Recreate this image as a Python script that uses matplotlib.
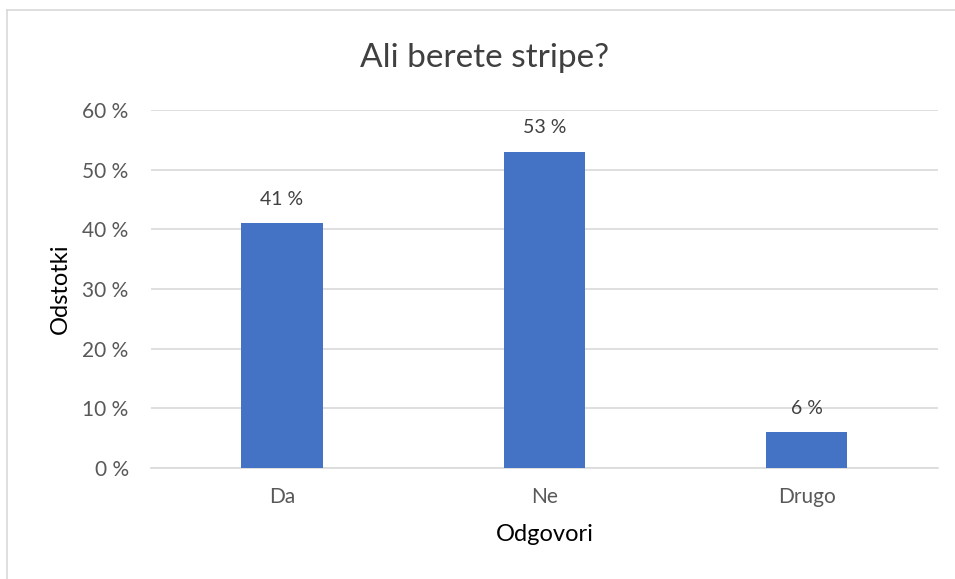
import matplotlib
matplotlib.use("Agg")
import matplotlib.pyplot as plt
from matplotlib.lines import Line2D

categories = ["Da", "Ne", "Drugo"]
values = [41, 53, 6]
yticks = [0, 10, 20, 30, 40, 50, 60]
ytick_labels = ["0 %", "10 %", "20 %", "30 %", "40 %", "50 %", "60 %"]

plt.rcParams['font.family'] = ['Lato', 'DejaVu Sans']

fig = plt.figure(figsize=(9.55, 5.79), dpi=100)
ax = fig.add_axes([0.158, 0.192, 0.824, 0.618])

x = list(range(len(categories)))
ax.bar(x, values, width=0.31, color="#4472C4", zorder=3)
ax.set_xlim(-0.5, len(categories) - 0.5)
ax.set_ylim(0, 60)
ax.set_yticks(yticks)
ax.set_yticklabels(ytick_labels)
ax.set_xticks(x)
ax.set_xticklabels(categories)
ax.grid(axis='y', color="#D9D9D9", linewidth=1.2, zorder=0)
for s in ['top', 'right', 'left']:
    ax.spines[s].set_visible(False)
ax.spines['bottom'].set_color("#D9D9D9")
ax.spines['bottom'].set_linewidth(1.2)
ax.tick_params(axis='both', length=0, labelsize=15, colors="#595959")
ax.tick_params(axis='y', pad=16)
ax.tick_params(axis='x', pad=14)

for xi, v in zip(x, values):
    ax.annotate(f"{v} %", (xi, v), xytext=(0, 11), textcoords='offset points',
                ha='center', va='bottom', fontsize=14, color="#404040")

fig.text(485/955, 1 - 58/579, "Ali berete stripe?", fontsize=24, color="#404040",
         ha='center', va='center')
ax.set_ylabel("Odstotki", fontsize=17, color="#000000", labelpad=8)
ax.set_xlabel("Odgovori", fontsize=17, color="#000000", labelpad=12)

# outer border (left and top edges visible)
fig.add_artist(Line2D([7/955, 7/955], [0, 1 - 10/579], transform=fig.transFigure,
                      color="#D9D9D9", linewidth=1.2))
fig.add_artist(Line2D([7/955, 1], [1 - 10/579, 1 - 10/579], transform=fig.transFigure,
                      color="#D9D9D9", linewidth=1.2))

fig.savefig("out.png", dpi=100)
